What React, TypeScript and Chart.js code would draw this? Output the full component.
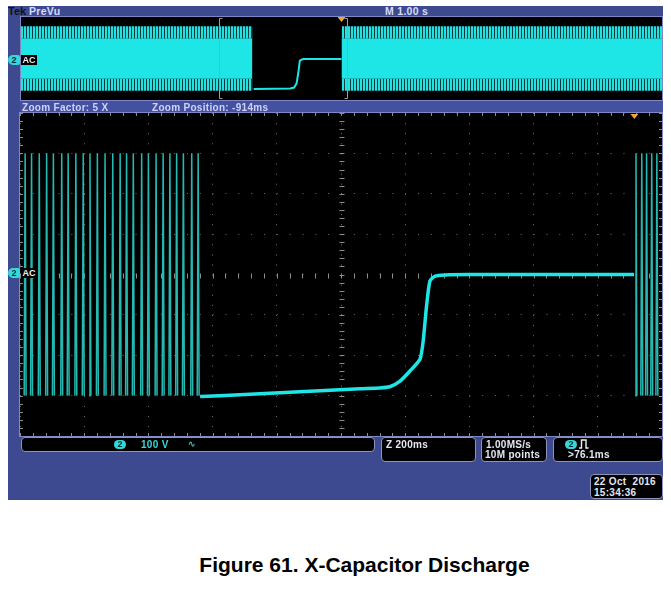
import React, { useEffect, useRef } from 'react';
import { Chart, registerables } from 'chart.js';
Chart.register(...registerables);

// ---------- Main (zoomed) window: time in ms relative to zoom centre, volts ----------
const mainTimeMin = -1000;
const mainTimeMax = 1000;
const mainTimeDiv = 200;
const mainVoltMin = -400;
const mainVoltMax = 400;
const mainVoltDiv = 100;

// centre times (ms) of the mains bursts visible as vertical spikes
const leftBurstTimes = [-984, -964, -940, -917, -896, -870, -850, -826, -803, -782, -759, -735, -711, -688, -668, -647, -621, -600, -576, -554, -533, -512, -491, -465, -445];
const rightBurstTimes = [919, 937, 952, 968, 984];
const burstPeak = 300;
const burstTrough = -300;
const burstHalfWidth = 3;

// X-capacitor discharge trace
const dischargeTimes = [-439, -315, -190, -66, 59, 121, 152, 184, 215, 246, 256, 266, 277, 293, 324, 400, 913];
const dischargeVolts = [-302, -298, -293, -288, -283, -281, -278, -264, -239, -210, -165, -82, -16, -4, -1, 0, 0];
const mainTriggerTime = 914;

// ---------- Overview (PreVu) window: seconds relative to trigger ----------
const ovTimeMin = -5;
const ovTimeMax = 5;
const ovVoltMin = -400;
const ovVoltMax = 400;
const ovBandStarts = [-5, 0];
const ovBandEnds = [-1.39, 5];
const ovEnvelopeOuter = 310;
const ovEnvelopeInner = 195;
const ovDischargeTimes = [-1.37, -0.8, -0.74, -0.7, -0.67, -0.65, -0.6, 0];
const ovDischargeVolts = [-295, -290, -280, -240, -120, -20, -5, -5];
const zoomPosition = -0.914;
const zoomHalfWidth = 1.0;
const ovTriggerTime = 0;

const CYAN = '#1fe6e6';
const BURST = '#26b9b2';
const BLUE = '#3d4a8f';
const FONT = '"Liberation Sans", Arial, sans-serif';

function buildBurst(times: number[]) {
  const pts: any[] = [];
  times.forEach((t) => {
    pts.push({ x: t - burstHalfWidth, y: burstTrough });
    pts.push({ x: t, y: burstPeak });
    pts.push({ x: t + burstHalfWidth, y: burstTrough });
    pts.push({ x: t + burstHalfWidth, y: null });
  });
  return pts;
}

function triangle(ctx: CanvasRenderingContext2D, px: number, top: number) {
  ctx.fillStyle = '#f0a828';
  ctx.beginPath();
  ctx.moveTo(px - 4, top);
  ctx.lineTo(px + 4, top);
  ctx.lineTo(px, top + 5);
  ctx.closePath();
  ctx.fill();
}

const graticulePlugin = {
  id: 'graticule',
  beforeDatasetsDraw(chart: any) {
    const { ctx, chartArea: a, scales } = chart;
    const x = scales.x;
    const y = scales.y;
    ctx.save();
    ctx.strokeStyle = '#8c8c8c';
    ctx.lineWidth = 1;
    const cx = Math.round(x.getPixelForValue(0)) + 0.5;
    const cy = Math.round(y.getPixelForValue(0)) + 0.5;
    const seg = (x1: number, y1: number, x2: number, y2: number) => {
      ctx.beginPath();
      ctx.moveTo(x1, y1);
      ctx.lineTo(x2, y2);
      ctx.stroke();
    };
    for (let v = mainTimeMin; v <= mainTimeMax; v += mainTimeDiv / 5) {
      const px = Math.round(x.getPixelForValue(v)) + 0.5;
      seg(px, cy - 2, px, cy + 3);
      seg(px, a.top, px, a.top + 3);
      seg(px, a.bottom - 3, px, a.bottom);
    }
    for (let v = mainVoltMin; v <= mainVoltMax; v += mainVoltDiv / 5) {
      const py = Math.round(y.getPixelForValue(v)) + 0.5;
      seg(cx - 2, py, cx + 3, py);
      seg(a.left, py, a.left + 3, py);
      seg(a.right - 3, py, a.right, py);
    }
    ctx.restore();
  },
  afterDatasetsDraw(chart: any) {
    const { ctx, chartArea: a, scales } = chart;
    ctx.save();
    triangle(ctx, scales.x.getPixelForValue(mainTriggerTime), a.top + 1);
    ctx.restore();
  },
};

const overviewPlugin = {
  id: 'overviewMarks',
  afterDatasetsDraw(chart: any) {
    const { ctx, chartArea: a, scales } = chart;
    const x = scales.x;
    ctx.save();
    ctx.strokeStyle = '#ab9a92';
    ctx.lineWidth = 1;
    const l = Math.round(x.getPixelForValue(zoomPosition - zoomHalfWidth)) + 0.5;
    const r = Math.round(x.getPixelForValue(zoomPosition + zoomHalfWidth)) + 0.5;
    ctx.beginPath();
    ctx.moveTo(l + 3, a.top + 1.5);
    ctx.lineTo(l, a.top + 1.5);
    ctx.lineTo(l, a.bottom - 1.5);
    ctx.lineTo(l + 3, a.bottom - 1.5);
    ctx.moveTo(r - 3, a.top + 1.5);
    ctx.lineTo(r, a.top + 1.5);
    ctx.lineTo(r, a.bottom - 1.5);
    ctx.lineTo(r - 3, a.bottom - 1.5);
    ctx.stroke();
    triangle(ctx, x.getPixelForValue(ovTriggerTime), a.top);
    ctx.restore();
  },
};

const baseOptions = (xMin: number, xMax: number, yMin: number, yMax: number, grid: boolean, xStep: number, yStep: number) => ({
  animation: false as const,
  responsive: false,
  maintainAspectRatio: false,
  events: [] as any[],
  layout: { padding: 0 },
  plugins: { legend: { display: false }, tooltip: { enabled: false } },
  scales: {
    x: {
      type: 'linear' as const,
      min: xMin,
      max: xMax,
      ticks: { display: false, stepSize: xStep },
      grid: { display: grid, color: '#6c6c6c', lineWidth: 1, drawTicks: false },
      border: { display: false, dash: [1, 9.1] },
    },
    y: {
      type: 'linear' as const,
      min: yMin,
      max: yMax,
      ticks: { display: false, stepSize: yStep },
      grid: { display: grid, color: '#6c6c6c', lineWidth: 1, drawTicks: false },
      border: { display: false, dash: [1, 11.84] },
    },
  },
});

function Txt({ x, y, s = 10, c = '#e4e6f2', children, ls = 0.3 }: any) {
  return (
    <div
      style={{
        position: 'absolute', left: x, top: y, fontFamily: FONT, fontWeight: 'bold', fontSize: s,
        lineHeight: '10px', color: c, whiteSpace: 'pre', letterSpacing: ls,
      }}
    >
      {children}
    </div>
  );
}

function Box({ x, y, w, h }: any) {
  return (
    <div
      style={{
        position: 'absolute', left: x, top: y, width: w, height: h, boxSizing: 'border-box',
        background: '#000', border: '1px solid #8f94bf', borderRadius: 4,
      }}
    />
  );
}

function Badge({ x, y }: any) {
  return (
    <div
      style={{
        position: 'absolute', left: x, top: y, width: 12, height: 9, borderRadius: 5, background: '#33d9d9',
        color: '#06303a', fontFamily: FONT, fontWeight: 'bold', fontSize: 9, lineHeight: '9px', textAlign: 'center',
      }}
    >
      2
    </div>
  );
}

function ChanMarker({ y }: any) {
  return (
    <>
      <div
        style={{
          position: 'absolute', left: 8, top: y, width: 12, height: 10, background: '#33d9d9',
          borderRadius: '5px 2px 2px 5px', color: '#06303a', fontFamily: FONT, fontWeight: 'bold',
          fontSize: 9, lineHeight: '10px', textAlign: 'center',
        }}
      >
        2
      </div>
      <div
        style={{
          position: 'absolute', left: 21, top: y, width: 16, height: 10, background: '#000', color: '#f0f0f0',
          fontFamily: FONT, fontWeight: 'bold', fontSize: 9, lineHeight: '10px', textAlign: 'center',
        }}
      >
        AC
      </div>
    </>
  );
}

export default function App() {
  const mainRef = useRef<HTMLCanvasElement>(null);
  const ovRef = useRef<HTMLCanvasElement>(null);

  useEffect(() => {
    const pc = document.createElement('canvas');
    pc.width = 3;
    pc.height = 1;
    const pctx = pc.getContext('2d')!;
    pctx.fillStyle = '#0b3c40';
    pctx.fillRect(0, 0, 3, 1);
    pctx.fillStyle = '#22e2e2';
    pctx.fillRect(0, 0, 2, 1);
    const pattern = ovRef.current!.getContext('2d')!.createPattern(pc, 'repeat');

    const ovDatasets: any[] = [];
    ovBandStarts.forEach((s, i) => {
      const e = ovBandEnds[i];
      const seg = (v: number) => [{ x: s, y: v }, { x: e, y: v }];
      ovDatasets.push({ data: seg(ovEnvelopeOuter), borderWidth: 0, pointRadius: 0, fill: false });
      ovDatasets.push({ data: seg(ovEnvelopeInner), borderWidth: 0, pointRadius: 0, fill: '-1', backgroundColor: pattern });
      ovDatasets.push({ data: seg(-ovEnvelopeInner), borderWidth: 0, pointRadius: 0, fill: '-1', backgroundColor: CYAN });
      ovDatasets.push({ data: seg(-ovEnvelopeOuter), borderWidth: 0, pointRadius: 0, fill: '-1', backgroundColor: pattern });
    });
    ovDatasets.push({
      data: ovDischargeTimes.map((t, i) => ({ x: t, y: ovDischargeVolts[i] })),
      borderColor: CYAN, borderWidth: 2, pointRadius: 0, fill: false, tension: 0,
    });

    const ov = new Chart(ovRef.current!, {
      type: 'line',
      data: { datasets: ovDatasets },
      options: baseOptions(ovTimeMin, ovTimeMax, ovVoltMin, ovVoltMax, false, 1, 100) as any,
      plugins: [overviewPlugin],
    });

    const main = new Chart(mainRef.current!, {
      type: 'line',
      data: {
        datasets: [
          { data: buildBurst(leftBurstTimes), borderColor: BURST, borderWidth: 1.5, pointRadius: 0, spanGaps: false, tension: 0 },
          { data: buildBurst(rightBurstTimes), borderColor: BURST, borderWidth: 1.5, pointRadius: 0, spanGaps: false, tension: 0 },
          {
            data: dischargeTimes.map((t, i) => ({ x: t, y: dischargeVolts[i] })),
            borderColor: CYAN, borderWidth: 3.5, pointRadius: 0, tension: 0.2,
          },
        ],
      },
      options: baseOptions(mainTimeMin, mainTimeMax, mainVoltMin, mainVoltMax, true, mainTimeDiv, mainVoltDiv) as any,
      plugins: [graticulePlugin],
    });

    return () => {
      ov.destroy();
      main.destroy();
    };
  }, []);

  return (
    <div style={{ position: 'absolute', left: 0, top: 0, width: 671, height: 594, background: '#fff', overflow: 'hidden' }}>
      {/* scope frame */}
      <div style={{ position: 'absolute', left: 8, top: 6, width: 655, height: 494, background: BLUE }} />
      <div style={{ position: 'absolute', left: 20, top: 101, width: 643, height: 11, background: '#4450a0' }} />
      <Txt x={8} y={6} s={11} c="#101018" ls={0}>Tek</Txt>
      <Txt x={29} y={6} s={10.5} c="#d6daff">PreVu</Txt>
      <Txt x={385} y={6} s={10.5} c="#d6daff">M 1.00 s</Txt>

      {/* overview */}
      <div style={{ position: 'absolute', left: 20, top: 16, width: 643, height: 85, boxSizing: 'border-box', border: '1px solid #7f87c4' }} />
      <canvas ref={ovRef} width={641} height={83} style={{ position: 'absolute', left: 21, top: 17, background: '#000' }} />
      <ChanMarker y={55} />

      <Txt x={22} y={103} s={10} c="#cfd3fa">Zoom Factor: 5 X</Txt>
      <Txt x={152} y={103} s={10} c="#cfd3fa">Zoom Position: -914ms</Txt>

      {/* main zoomed graticule */}
      <div style={{ position: 'absolute', left: 19, top: 112, width: 644, height: 325, boxSizing: 'border-box', border: '1px solid #7f87c4' }} />
      <canvas ref={mainRef} width={642} height={323} style={{ position: 'absolute', left: 20, top: 113, background: '#000' }} />
      <ChanMarker y={268} />

      {/* readouts */}
      <Box x={21} y={437} w={354} h={15} />
      <Badge x={114} y={440} />
      <Txt x={141} y={440} c="#3fd6d6">100 V</Txt>
      <Txt x={188} y={439} s={9} c="#3fbdbd">∿</Txt>

      <Box x={381} y={437} w={95} h={25} />
      <Txt x={386} y={440}>Z 200ms</Txt>

      <Box x={481} y={437} w={66} h={25} />
      <Txt x={486} y={440}>1.00MS/s</Txt>
      <Txt x={485} y={450}>10M points</Txt>

      <Box x={553} y={437} w={110} h={25} />
      <Badge x={565} y={440} />
      <svg style={{ position: 'absolute', left: 579, top: 439 }} width={10} height={10}>
        <polyline points="0,9 2.5,9 2.5,1 7,1 7,9 9.5,9" fill="none" stroke="#f0f0f0" strokeWidth={1.4} />
      </svg>
      <Txt x={568} y={450}>&gt;76.1ms</Txt>

      <Box x={590} y={474} w={73} h={25} />
      <Txt x={594} y={477}>22 Oct  2016</Txt>
      <Txt x={594} y={488}>15:34:36</Txt>

      {/* caption */}
      <div
        style={{
          position: 'absolute', left: 29, top: 553, width: 671, textAlign: 'center', fontFamily: FONT,
          fontWeight: 'bold', fontSize: 21, lineHeight: '24px', color: '#000', whiteSpace: 'nowrap',
        }}
      >
        Figure 61. X-Capacitor Discharge
      </div>
    </div>
  );
}
